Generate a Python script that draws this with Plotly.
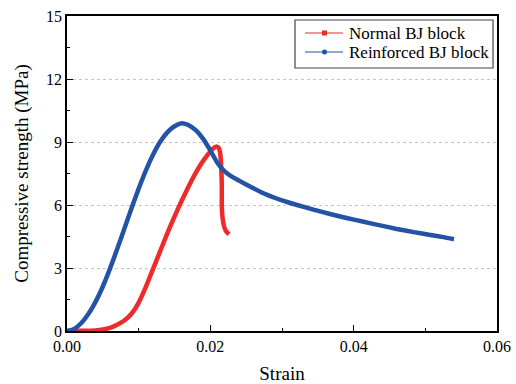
import plotly.graph_objects as go

# Normal BJ block (red)
red_strain = [0, 0.002, 0.004, 0.005, 0.006, 0.007, 0.008, 0.009, 0.010, 0.011, 0.012, 0.013,
              0.014, 0.015, 0.016, 0.017, 0.018, 0.019, 0.020, 0.0205, 0.0209, 0.0212, 0.0214,
              0.0215, 0.0216, 0.0216, 0.0217, 0.0219, 0.0222, 0.0226]
red_stress = [0, 0.01, 0.03, 0.07, 0.15, 0.3, 0.5, 0.82, 1.35, 2.1, 2.95, 3.8,
              4.65, 5.45, 6.2, 6.9, 7.55, 8.1, 8.55, 8.72, 8.78, 8.7, 8.4,
              7.9, 7.0, 6.0, 5.4, 5.0, 4.75, 4.6]

# Reinforced BJ block (blue)
blue_strain = [0, 0.001, 0.002, 0.003, 0.004, 0.005, 0.006, 0.007, 0.008, 0.009, 0.010,
               0.011, 0.012, 0.013, 0.014, 0.015, 0.016, 0.017, 0.018, 0.019, 0.020,
               0.021, 0.022, 0.023, 0.025, 0.0274, 0.0300, 0.0321, 0.0345, 0.0367, 0.0390,
               0.0414, 0.0437, 0.0460, 0.0484, 0.0507, 0.0525, 0.0540]
blue_stress = [0, 0.1, 0.38, 0.82, 1.4, 2.12, 2.97, 3.9, 4.87, 5.84, 6.78,
               7.64, 8.39, 9.01, 9.46, 9.75, 9.89, 9.8, 9.55, 9.15, 8.6,
               8.0, 7.6, 7.35, 6.98, 6.56, 6.22, 6.0, 5.77, 5.57, 5.38,
               5.2, 5.03, 4.86, 4.71, 4.57, 4.47, 4.37]

series_names = ["Normal BJ block", "Reinforced BJ block"]

x_ticks = [0, 0.02, 0.04, 0.06]
x_ticklabels = ["0.00", "0.02", "0.04", "0.06"]
y_ticks = [0, 3, 6, 9, 12, 15]

RED = "#EE2A2A"
BLUE = "#2453A6"
FONT = "Liberation Serif"

W, H = 516, 384
ML, MR, MT, MB = 67, 19, 16, 53
PW, PH = W - ML - MR, H - MT - MB


def px(xp):
    return (xp - ML) / PW


def py(yp):
    return (H - MB - yp) / PH


fig = go.Figure()
fig.add_trace(go.Scatter(x=red_strain, y=red_stress, mode="lines", name=series_names[0],
                         line=dict(color=RED, width=4.5, shape="spline", smoothing=0.5), showlegend=False))
fig.add_trace(go.Scatter(x=blue_strain, y=blue_stress, mode="lines", name=series_names[1],
                         line=dict(color=BLUE, width=4.5, shape="spline", smoothing=0.5), showlegend=False))

# Legend box (drawn manually to match the compact original)
shapes = [dict(type="rect", xref="paper", yref="paper", x0=px(295), x1=px(493), y0=py(68), y1=py(20),
               line=dict(color="#444444", width=1.2), fillcolor="white", layer="above")]
annotations = []
for name, color, yc, sym in [(series_names[0], RED, 33, "square"), (series_names[1], BLUE, 52, "circle")]:
    shapes.append(dict(type="line", xref="paper", yref="paper", x0=px(305), x1=px(343), y0=py(yc), y1=py(yc),
                       line=dict(color=color, width=1), layer="above"))
    shapes.append(dict(type="rect" if sym == "square" else "circle", xref="paper", yref="paper",
                       x0=px(322), x1=px(327), y0=py(yc + 2.5), y1=py(yc - 2.5),
                       line=dict(color=color, width=0), fillcolor=color, layer="above"))
    annotations.append(dict(text=name, xref="paper", yref="paper", x=px(347), y=py(yc),
                            xanchor="left", yanchor="middle", showarrow=False,
                            font=dict(family=FONT, size=17, color="black")))

fig.update_layout(
    width=W, height=H,
    margin=dict(l=ML, r=MR, t=MT, b=MB),
    paper_bgcolor="white", plot_bgcolor="white",
    font=dict(family=FONT, size=15, color="black"),
    showlegend=False,
    shapes=shapes,
    annotations=annotations,
    xaxis=dict(range=[0, 0.06], tickvals=x_ticks, ticktext=x_ticklabels,
               ticks="inside", ticklen=6, tickwidth=1, tickcolor="black",
               showline=True, linecolor="black", linewidth=1.5, mirror=True,
               showgrid=False, zeroline=False, automargin=False,
               minor=dict(ticks="inside", dtick=0.01, ticklen=3, tickcolor="black", showgrid=False),
               title=dict(text="Strain", font=dict(family=FONT, size=19), standoff=14),
               tickfont=dict(family=FONT, size=16)),
    yaxis=dict(range=[0, 15], tickvals=y_ticks,
               ticks="inside", ticklen=6, tickwidth=1, tickcolor="black",
               showline=True, linecolor="black", linewidth=1.5, mirror=True,
               showgrid=True, gridcolor="#c4c4c4", griddash="dot", gridwidth=1,
               zeroline=False, automargin=False,
               minor=dict(ticks="inside", dtick=1.5, ticklen=3, tickcolor="black", showgrid=False),
               title=dict(text="Compressive strength (MPa)", font=dict(family=FONT, size=19), standoff=12),
               tickfont=dict(family=FONT, size=16)),
)

fig.write_html("out.html", config={"displayModeBar": False},
               post_script="document.body.style.margin='0px';")
